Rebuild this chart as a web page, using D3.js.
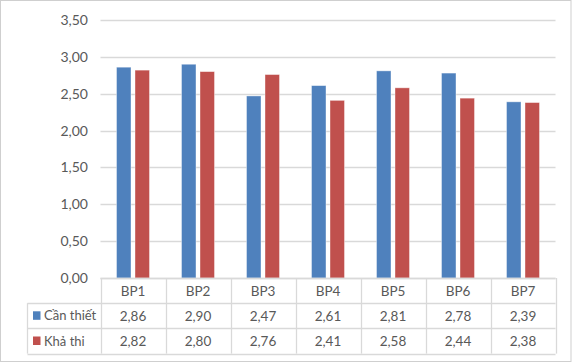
<!DOCTYPE html>
<html><head><meta charset="utf-8">
<script src="https://cdn.jsdelivr.net/npm/d3@7"></script>
<style>
html,body{margin:0;padding:0;background:#fff;}
svg{display:block;}
text{font-family:Lato,"Liberation Sans",sans-serif;fill:#595959;}
</style></head>
<body><svg id="c" width="573" height="364"></svg>
<script>
const categories = ["BP1","BP2","BP3","BP4","BP5","BP6","BP7"];
const seriesNames = ["Cần thiết","Khả thi"];
const canThiet = [2.86,2.90,2.47,2.61,2.81,2.78,2.39];
const khaThi = [2.82,2.80,2.76,2.41,2.58,2.44,2.38];
const yTicks = [0,0.5,1,1.5,2,2.5,3,3.5];
const colors = ["#4F81BD","#C0504D"];

(function(){
const svg = d3.select("#c");
svg.append("rect").attr("x",0.5).attr("y",0.5).attr("width",570.5).attr("height",361).attr("fill","#fff").attr("stroke","#cfcfcf");

const pLeft=100.5, pRight=555.5, pTop=20, pBottom=278;
const fmt = v => d3.format(".2f")(v).replace(".",",");
const y = d3.scaleLinear().domain([0,3.5]).range([pBottom,pTop]);
const x = d3.scaleBand().domain(categories).range([pLeft,pRight]);
const fs = "13.5px";

svg.append("g").selectAll("line").data(yTicks).join("line")
  .attr("x1",pLeft).attr("x2",pRight)
  .attr("y1",d=>Math.round(y(d))+0.5).attr("y2",d=>Math.round(y(d))+0.5)
  .attr("stroke","#d9d9d9").attr("stroke-width",1.3);
const yAxis = d3.axisLeft(y).tickValues(yTicks).tickFormat(fmt).tickSize(0).tickPadding(0);
const ga = svg.append("g").attr("transform",`translate(88,0)`).call(yAxis);
ga.select(".domain").remove();
ga.selectAll("text").attr("font-size","14px").attr("fill","#595959").attr("font-family","Lato,'Liberation Sans',sans-serif");

const series = [canThiet,khaThi];
const barW = 14.5, gap = 4;
series.forEach((vals,si)=>{
  svg.append("g").selectAll("rect").data(vals).join("rect")
    .attr("x",(d,i)=>x(categories[i])+x.bandwidth()/2 + (si===0 ? -gap/2-barW : gap/2))
    .attr("width",barW)
    .attr("y",d=>y(d)).attr("height",d=>y(0)-y(d))
    .attr("fill",colors[si]).attr("stroke","#ffffff").attr("stroke-opacity",0.5).attr("stroke-width",0.8);
});

const rowH = 25.2;
const tbl = svg.append("g");
const lineC = "#d9d9d9";
const tLeft = 27.5;
const rowsY = [pBottom, pBottom+rowH, pBottom+2*rowH, pBottom+3*rowH];
tbl.append("line").attr("x1",pLeft).attr("x2",pRight).attr("y1",rowsY[0]+0.5).attr("y2",rowsY[0]+0.5).attr("stroke",lineC).attr("stroke-width",1.3);
[1,2,3].forEach(k=>{
  tbl.append("line").attr("x1",tLeft).attr("x2",pRight).attr("y1",Math.round(rowsY[k])+0.5).attr("y2",Math.round(rowsY[k])+0.5).attr("stroke",lineC).attr("stroke-width",1.3);
});
const vx = categories.map(c=>x(c)).concat([pRight]);
vx.forEach(v=>{
  tbl.append("line").attr("x1",Math.round(v)+0.5).attr("x2",Math.round(v)+0.5).attr("y1",rowsY[0]).attr("y2",rowsY[3]).attr("stroke",lineC).attr("stroke-width",1.3);
});
tbl.append("line").attr("x1",tLeft).attr("x2",tLeft).attr("y1",rowsY[1]).attr("y2",rowsY[3]).attr("stroke",lineC).attr("stroke-width",1.3);

tbl.selectAll("text.h").data(categories).join("text").attr("class","h")
  .attr("x",d=>x(d)+x.bandwidth()/2).attr("y",rowsY[0]+rowH/2+1).attr("dy","0.36em")
  .attr("text-anchor","middle").attr("font-size",fs).text(d=>d);
series.forEach((vals,si)=>{
  const cy = rowsY[si+1]+rowH/2;
  tbl.append("g").selectAll("text").data(vals).join("text")
    .attr("x",(d,i)=>x(categories[i])+x.bandwidth()/2).attr("y",cy).attr("dy","0.36em")
    .attr("text-anchor","middle").attr("font-size",fs).text(d=>fmt(d));
  tbl.append("rect").attr("x",33).attr("y",cy-4.5).attr("width",7.5).attr("height",8.5).attr("fill",colors[si]);
  tbl.append("text").attr("x",44).attr("y",cy).attr("dy","0.36em").attr("font-size","13px").text(seriesNames[si]);
});
})();
</script></body></html>
